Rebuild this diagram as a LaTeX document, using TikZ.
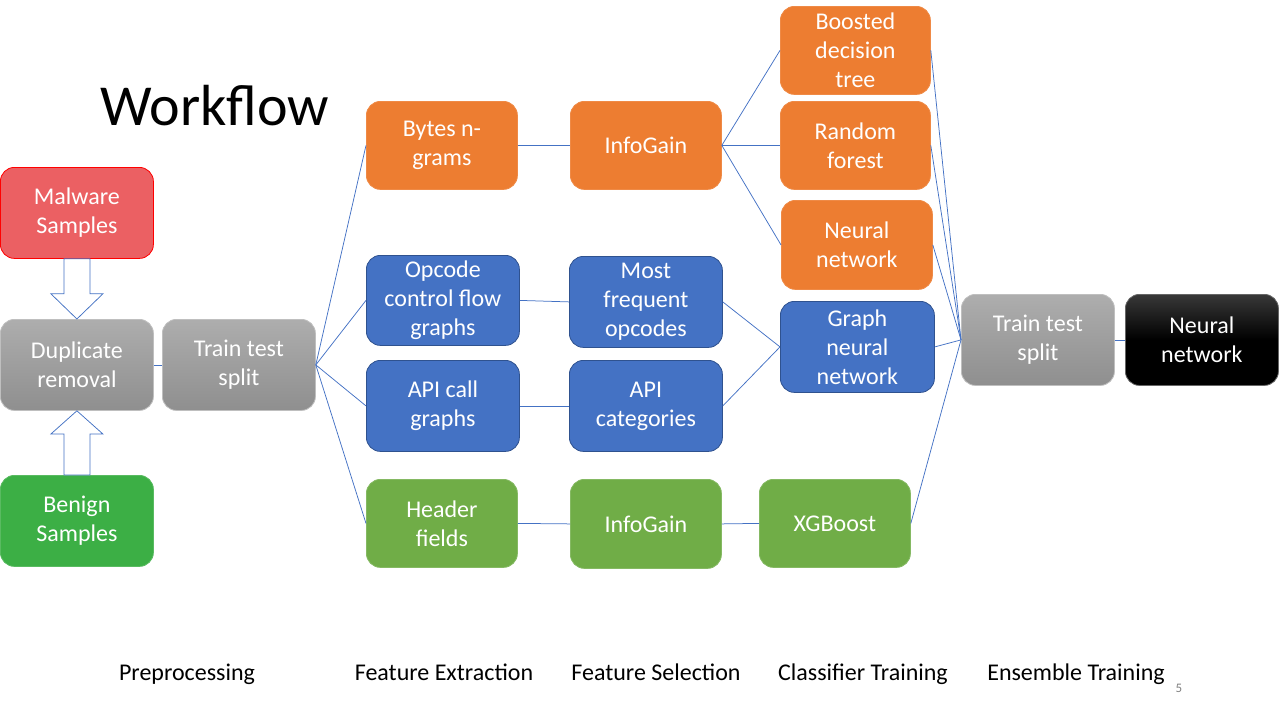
\documentclass[tikz,border=0pt]{standalone}
\usepackage{fontspec}
\setmainfont{Carlito}
\usetikzlibrary{calc}
\definecolor{cred}{HTML}{EB6063}
\definecolor{corange}{HTML}{ED7D31}
\definecolor{cblue}{HTML}{4472C4}
\definecolor{cblueb}{HTML}{2F528F}
\definecolor{cgreen}{HTML}{3CAF45}
\definecolor{cgreenl}{HTML}{70AD47}
\definecolor{cline}{HTML}{4472C4}
\tikzset{
  box/.style={rounded corners=14pt, anchor=north west, align=center, text=white,
    font=\fontsize{24}{29}\selectfont, inner sep=0pt, line width=0.8pt},
  redbox/.style={box, fill=cred, draw=red},
  orbox/.style={box, fill=corange, draw=corange!90!white},
  blbox/.style={box, fill=cblue, draw=cblueb},
  grbox/.style={box, fill=cgreen, draw=cgreen!85!white},
  lgbox/.style={box, fill=cgreenl, draw=cgreenl!85!white},
  graybox/.style={box, top color=black!32, bottom color=black!44, draw=black!25},
  blackbox/.style={box, top color=black!78, bottom color=black, middle color=black, draw=black!60},
  conn/.style={draw=cline, line width=0.75pt},
  blockarrow/.style={draw=cline, fill=white, line width=0.75pt},
  label/.style={font=\fontsize{24}{28}\selectfont, anchor=base},
}
\begin{document}
\begin{tikzpicture}[x=1pt, y=-1pt]
\useasboundingbox (0,0) rectangle (1280,720);

\node[font=\fontsize{58}{64}\selectfont, anchor=base west] (title) at (97,125) {Workflow};

% preprocessing
\node[redbox, minimum width=153pt, minimum height=91pt] (mal) at (0,167) {Malware\\Samples};
\node[graybox, minimum width=153pt, minimum height=91pt] (dup) at (0,319) {Duplicate\\removal};
\node[grbox, minimum width=153pt, minimum height=91pt] (ben) at (0,475) {Benign\\Samples};
\node[graybox, minimum width=153pt, minimum height=91pt] (tts) at (162,319) {Train test\\split};

% feature extraction
\node[orbox, minimum width=151pt, minimum height=88pt] (bytes) at (366,101) {Bytes n-\\grams};
\node[blbox, minimum width=153pt, minimum height=90pt] (opc) at (366,255) {Opcode\\control flow\\graphs};
\node[blbox, minimum width=153pt, minimum height=91pt] (api) at (366,360) {API call\\graphs};
\node[lgbox, minimum width=151pt, minimum height=88pt] (hdr) at (366,479) {Header\\fields};

% feature selection
\node[orbox, minimum width=151pt, minimum height=88pt] (ig1) at (570,101) {InfoGain};
\node[blbox, minimum width=153pt, minimum height=91pt] (mfo) at (569,256) {Most\\frequent\\opcodes};
\node[blbox, minimum width=153pt, minimum height=91pt] (apic) at (569,360) {API\\categories};
\node[lgbox, minimum width=151pt, minimum height=89pt] (ig2) at (570,479) {InfoGain};

% classifiers
\node[orbox, minimum width=150pt, minimum height=88pt] (bdt) at (780,6) {Boosted\\decision\\tree};
\node[orbox, minimum width=150pt, minimum height=88pt] (rf) at (780,101) {Random\\forest};
\node[orbox, minimum width=151pt, minimum height=89pt] (nn1) at (781,200) {Neural\\network};
\node[blbox, minimum width=154pt, minimum height=91pt] (gnn) at (780,301) {Graph\\neural\\network};
\node[lgbox, minimum width=151pt, minimum height=88pt] (xgb) at (759,479) {XGBoost};

% ensemble
\node[graybox, minimum width=153pt, minimum height=91pt] (tts2) at (961,294) {Train test\\split};
\node[blackbox, minimum width=153pt, minimum height=91pt] (nn2) at (1125,294) {Neural\\network};

% block arrows
\draw[blockarrow] ($(mal.south)+(-13,0)$) -- ($(mal.south)+(13,0)$) -- ($(mal.south)+(13,35)$) -- ($(mal.south)+(26,35)$) -- (dup.north) -- ($(mal.south)+(-26,35)$) -- ($(mal.south)+(-13,35)$) -- cycle;
\draw[blockarrow] ($(ben.north)+(-13,0)$) -- ($(ben.north)+(13,0)$) -- ($(ben.north)+(13,-41)$) -- ($(ben.north)+(26,-41)$) -- (dup.south) -- ($(ben.north)+(-26,-41)$) -- ($(ben.north)+(-13,-41)$) -- cycle;

% connectors
\draw[conn] (dup.east) -- (tts.west);
\draw[conn] (tts.east) -- (bytes.west);
\draw[conn] (tts.east) -- (opc.west);
\draw[conn] (tts.east) -- (api.west);
\draw[conn] (tts.east) -- (hdr.west);
\draw[conn] (bytes.east) -- (ig1.west);
\draw[conn] (opc.east) -- (mfo.west);
\draw[conn] (api.east) -- (apic.west);
\draw[conn] (hdr.east) -- (ig2.west);
\draw[conn] (ig1.east) -- (bdt.west);
\draw[conn] (ig1.east) -- (rf.west);
\draw[conn] (ig1.east) -- (nn1.west);
\draw[conn] (mfo.east) -- (gnn.west);
\draw[conn] (apic.east) -- (gnn.west);
\draw[conn] (ig2.east) -- (xgb.west);
\draw[conn] (bdt.east) -- (tts2.west);
\draw[conn] (rf.east) -- (tts2.west);
\draw[conn] (nn1.east) -- (tts2.west);
\draw[conn] (gnn.east) -- (tts2.west);
\draw[conn] (xgb.east) -- (tts2.west);
\draw[conn] (tts2.east) -- (nn2.west);

% stage labels
\node[label] (l1) at (187,680) {Preprocessing};
\node[label] (l2) at (444,680) {Feature Extraction};
\node[label] (l3) at (656,680) {Feature Selection};
\node[label] (l4) at (863,680) {Classifier Training};
\node[label] (l5) at (1076,680) {Ensemble Training};
\node[font=\fontsize{13}{15}\selectfont, text=black!50, anchor=base] (pg) at (1179,692) {5};
\end{tikzpicture}
\end{document}
